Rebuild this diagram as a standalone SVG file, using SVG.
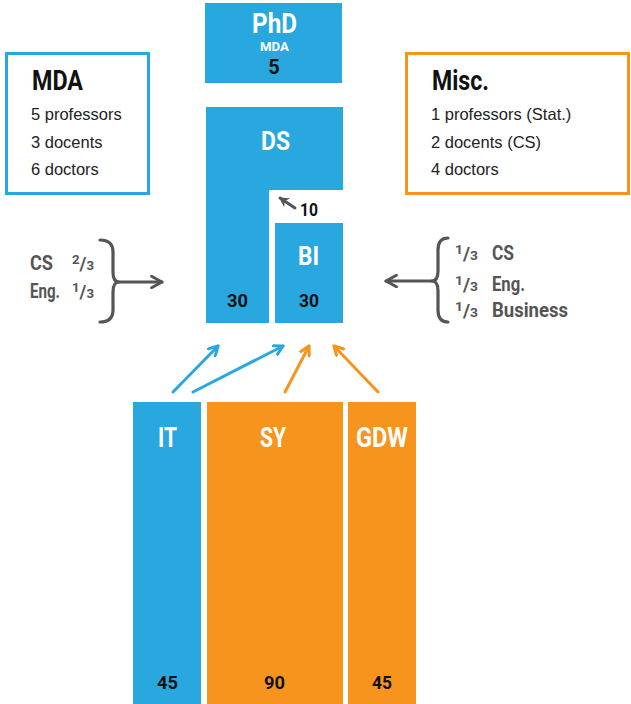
<svg xmlns="http://www.w3.org/2000/svg" width="631" height="704" viewBox="0 0 631 704">
<defs>
<style>
.blue{fill:#29a8e0}
.orange{fill:#f7941e}
.cb{font-family:Roboto,"Liberation Sans",sans-serif;font-weight:bold}
.w{fill:#fff}
.k{fill:#111}
.g{fill:#555}
.reg{font-family:"Liberation Sans","Helvetica",sans-serif;font-size:16.5px;fill:#222}
.hd{font-family:Roboto,"Liberation Sans",sans-serif;font-weight:bold;font-size:28px;fill:#111}
.frame{fill:#fff;stroke-width:3}
.gl{fill:none;stroke:#555;stroke-width:3.2;stroke-linecap:round;stroke-linejoin:round}
.ba{fill:none;stroke:#29a8e0;stroke-width:3;stroke-linecap:round}
.oa{fill:none;stroke:#f7941e;stroke-width:3;stroke-linecap:round}
</style>
<marker id="mb" viewBox="0 0 12 12" refX="10" refY="6" markerWidth="12" markerHeight="12" markerUnits="userSpaceOnUse" orient="auto">
<path d="M1,1 L10,6 L1,11" fill="none" stroke="#29a8e0" stroke-width="3" stroke-linecap="round" stroke-linejoin="round"/>
</marker>
<marker id="mo" viewBox="0 0 12 12" refX="10" refY="6" markerWidth="12" markerHeight="12" markerUnits="userSpaceOnUse" orient="auto">
<path d="M1,1 L10,6 L1,11" fill="none" stroke="#f7941e" stroke-width="3" stroke-linecap="round" stroke-linejoin="round"/>
</marker>
<marker id="mg" viewBox="0 0 12 12" refX="10" refY="6" markerWidth="14" markerHeight="14" markerUnits="userSpaceOnUse" orient="auto">
<path d="M1,1 L10,6 L1,11" fill="none" stroke="#555" stroke-width="2.4" stroke-linecap="round" stroke-linejoin="round"/>
</marker>
<marker id="mk" viewBox="0 0 10 10" refX="8" refY="5" markerWidth="11" markerHeight="11" markerUnits="userSpaceOnUse" orient="auto">
<path d="M0,0 L9,5 L0,10 L3,5 Z" fill="#555"/>
</marker>
</defs>

<g id="phd">
<rect class="blue" x="205" y="3" width="137" height="80"/>
<text class="cb w" x="252" y="33" font-size="27" textLength="45" lengthAdjust="spacingAndGlyphs">PhD</text>
<text class="cb w" x="260" y="51" font-size="13" textLength="29" lengthAdjust="spacingAndGlyphs">MDA</text>
<text class="cb k" x="274" y="74" font-size="20" text-anchor="middle">5</text>
</g>

<g id="mda">
<rect class="frame" x="6.5" y="53.5" width="142" height="140" stroke="#29a8e0"/>
<text class="hd" x="32" y="90" textLength="51" lengthAdjust="spacingAndGlyphs">MDA</text>
<text class="reg" x="31" y="120">5 professors</text>
<text class="reg" x="31" y="148">3 docents</text>
<text class="reg" x="31" y="175">6 doctors</text>
</g>

<g id="misc">
<rect class="frame" x="406.5" y="53.5" width="222" height="140" stroke="#f7941e"/>
<text class="hd" x="432" y="90" textLength="57" lengthAdjust="spacingAndGlyphs">Misc.</text>
<text class="reg" x="431" y="120">1 professors (Stat.)</text>
<text class="reg" x="431" y="148">2 docents (CS)</text>
<text class="reg" x="431" y="175">4 doctors</text>
</g>

<g id="ds">
<path class="blue" d="M206,107 H343 V190 H269 V323 H206 Z"/>
<text class="cb w" x="261" y="150" font-size="26" textLength="29" lengthAdjust="spacingAndGlyphs">DS</text>
<text class="cb k" x="227" y="307" font-size="19" textLength="21" lengthAdjust="spacingAndGlyphs">30</text>
</g>

<g id="bi">
<rect class="blue" x="275" y="223" width="68" height="100"/>
<text class="cb w" x="298" y="265" font-size="26" textLength="21" lengthAdjust="spacingAndGlyphs">BI</text>
<text class="cb k" x="299" y="307" font-size="19" textLength="20" lengthAdjust="spacingAndGlyphs">30</text>
</g>

<g id="ten">
<text class="cb k" x="300" y="216" font-size="19" textLength="18" lengthAdjust="spacingAndGlyphs">10</text>
</g>

<g id="it">
<rect class="blue" x="133" y="402" width="68" height="302"/>
<text class="cb w" x="158" y="447" font-size="28" textLength="19" lengthAdjust="spacingAndGlyphs">IT</text>
<text class="cb k" x="157" y="689" font-size="19" textLength="21" lengthAdjust="spacingAndGlyphs">45</text>
</g>

<g id="sy">
<rect class="orange" x="207" y="402" width="136" height="302"/>
<text class="cb w" x="260" y="447" font-size="28" textLength="26" lengthAdjust="spacingAndGlyphs">SY</text>
<text class="cb k" x="264" y="689" font-size="19" textLength="21" lengthAdjust="spacingAndGlyphs">90</text>
</g>

<g id="gdw">
<rect class="orange" x="348" y="402" width="68" height="302"/>
<text class="cb w" x="356" y="447" font-size="28" textLength="52" lengthAdjust="spacingAndGlyphs">GDW</text>
<text class="cb k" x="372" y="689" font-size="19" textLength="20" lengthAdjust="spacingAndGlyphs">45</text>
</g>

<g id="left-shares">
<text class="cb g" x="30" y="270" font-size="20" textLength="23" lengthAdjust="spacingAndGlyphs">CS</text>
<text class="cb g" x="30" y="298" font-size="20" textLength="30" lengthAdjust="spacingAndGlyphs">Eng.</text>
<text class="cb g" x="72" y="270" font-size="18" textLength="22" lengthAdjust="spacingAndGlyphs"><tspan font-size="13" dy="-6">2</tspan><tspan dy="6">/</tspan><tspan font-size="13">3</tspan></text>
<text class="cb g" x="72" y="298" font-size="18" textLength="22" lengthAdjust="spacingAndGlyphs"><tspan font-size="13" dy="-6">1</tspan><tspan dy="6">/</tspan><tspan font-size="13">3</tspan></text>
<path class="gl" d="M100,240 Q113,240 113,252 L113,272 Q113,282 119,282 Q113,282 113,292 L113,310 Q113,322 100,322"/>
</g>

<g id="right-shares">
<text class="cb g" x="455" y="260" font-size="18" textLength="23" lengthAdjust="spacingAndGlyphs"><tspan font-size="13" dy="-6">1</tspan><tspan dy="6">/</tspan><tspan font-size="13">3</tspan></text>
<text class="cb g" x="455" y="291" font-size="18" textLength="23" lengthAdjust="spacingAndGlyphs"><tspan font-size="13" dy="-6">1</tspan><tspan dy="6">/</tspan><tspan font-size="13">3</tspan></text>
<text class="cb g" x="455" y="317" font-size="18" textLength="23" lengthAdjust="spacingAndGlyphs"><tspan font-size="13" dy="-6">1</tspan><tspan dy="6">/</tspan><tspan font-size="13">3</tspan></text>
<text class="cb g" x="492" y="260" font-size="20" textLength="22" lengthAdjust="spacingAndGlyphs">CS</text>
<text class="cb g" x="492" y="291" font-size="20" textLength="33" lengthAdjust="spacingAndGlyphs">Eng.</text>
<text class="cb g" x="492" y="317" font-size="20" textLength="76" lengthAdjust="spacingAndGlyphs">Business</text>
<path class="gl" d="M448,238 Q438,238 438,250 L438,271 Q438,281 432,281 Q438,281 438,291 L438,310 Q438,322 448,322"/>
</g>

<g id="connectors">
<line class="gl" x1="119" y1="282" x2="162" y2="282" marker-end="url(#mg)"/>
<line class="gl" x1="432" y1="281" x2="386" y2="281" marker-end="url(#mg)"/>
<line x1="295" y1="208" x2="280" y2="198" stroke="#555" stroke-width="3" stroke-linecap="round" marker-end="url(#mk)"/>
<line class="ba" x1="173" y1="392" x2="218" y2="346" marker-end="url(#mb)"/>
<line class="ba" x1="193" y1="392" x2="283" y2="346" marker-end="url(#mb)"/>
<line class="oa" x1="285" y1="392" x2="309" y2="346" marker-end="url(#mo)"/>
<line class="oa" x1="378" y1="392" x2="334" y2="346" marker-end="url(#mo)"/>
</g>
</svg>
